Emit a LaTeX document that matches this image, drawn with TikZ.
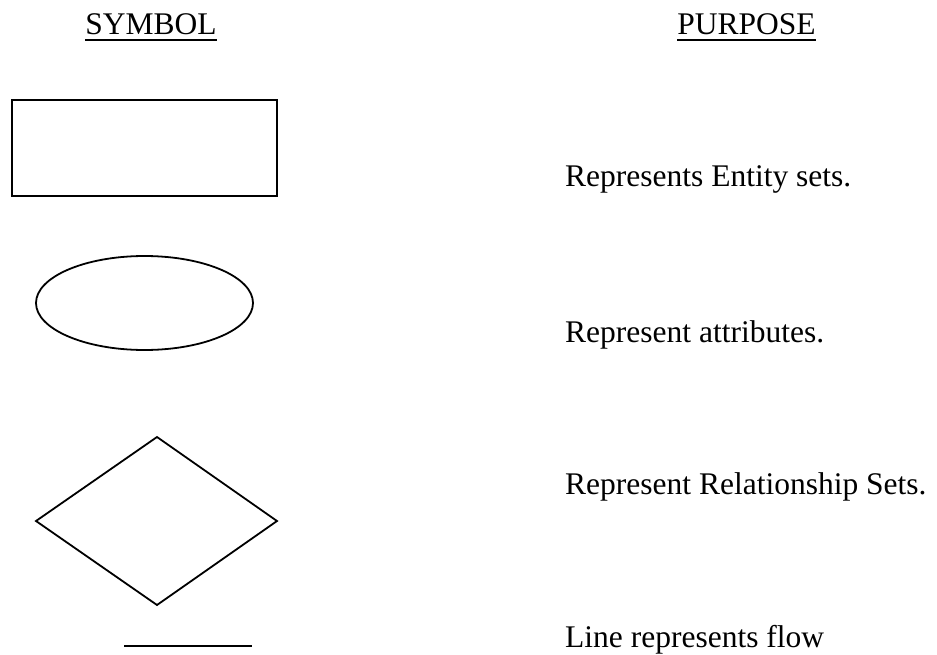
\documentclass[tikz,border=0pt]{standalone}
\usepackage{fontspec}
\setmainfont{Liberation Serif}
\usetikzlibrary{shapes.geometric}
\begin{document}
\begin{tikzpicture}[x=1pt,y=-1pt,
  txt/.style={inner sep=0pt,font=\fontsize{31.5}{38}\selectfont},
  purpose/.style={txt,anchor=base west},
  heading/.style={txt,anchor=base},
  symline/.style={line width=1.8pt,black},
  uline/.style={line width=2pt,black}]
\useasboundingbox (0,0) rectangle (937,655);

% column headings
\node[heading] (hsym) at (151,35) {SYMBOL};
\node[heading] (hpur) at (746.5,35) {PURPOSE};
\draw[uline] ([yshift=-5pt]hsym.base west) -- ([yshift=-5pt]hsym.base east);
\draw[uline] ([yshift=-5pt]hpur.base west) -- ([yshift=-5pt]hpur.base east);

% symbols
\draw[symline] (12,100) rectangle (277,196);
\draw[symline] (144.5,303) ellipse [x radius=108.5, y radius=47];
\draw[symline] (157,437) -- (277,521) -- (157,605) -- (36,521) -- cycle;
\coordinate (ls) at (124,646);
\coordinate (le) at (252,646);
\draw[symline] (ls) -- (le);

% descriptions
\node[purpose] (p1) at (565,187) {Represents Entity sets.};
\node[purpose] (p2) at (565,342) {Represent attributes.};
\node[purpose] (p3) at (565,494) {Represent Relationship Sets.};
\node[purpose] (p4) at (565,647) {Line represents flow};
\end{tikzpicture}
\end{document}
